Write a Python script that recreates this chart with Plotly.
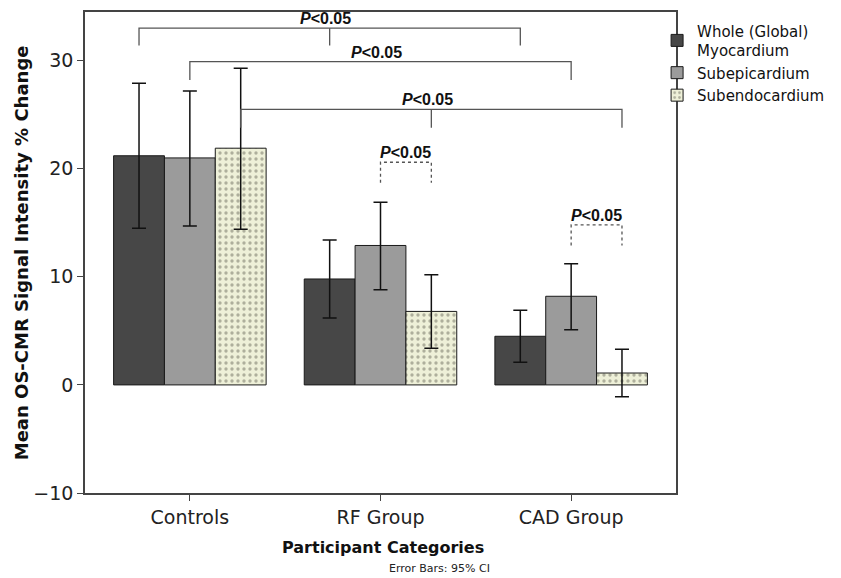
import plotly.graph_objects as go

categories = ["Controls", "RF Group", "CAD Group"]
series_names = ["Whole (Global)<br>Myocardium", "Subepicardium", "Subendocardium"]

whole_mean = [21.2, 9.8, 4.5]
whole_hi = [27.9, 13.4, 6.9]
whole_lo = [14.5, 6.2, 2.1]

subepi_mean = [21.0, 12.9, 8.2]
subepi_hi = [27.2, 16.9, 11.2]
subepi_lo = [14.7, 8.8, 5.1]

subendo_mean = [21.9, 6.8, 1.1]
subendo_hi = [29.3, 10.2, 3.3]
subendo_lo = [14.4, 3.4, -1.1]

# comparisons: (group_a, series_a, group_b, series_b, level, drop, mid_tick, dashed)
comparisons = [
    (0, 0, 2, 0, 33.0, 1.6, True, False),
    (0, 1, 2, 1, 29.9, 1.7, False, False),
    (0, 2, 2, 2, 25.5, 1.7, True, False),
    (1, 1, 1, 2, 20.6, 1.9, False, True),
    (2, 1, 2, 2, 14.8, 1.9, False, True),
]

means = [whole_mean, subepi_mean, subendo_mean]
his = [whole_hi, subepi_hi, subendo_hi]
los = [whole_lo, subepi_lo, subendo_lo]
fills = ["#474747", "#9b9b9b", "#eef0d8"]

FONT = "DejaVu Sans"
fig = go.Figure()
for i in range(3):
    m = means[i]
    plus = [h - v for h, v in zip(his[i], m)]
    minus = [v - l for v, l in zip(m, los[i])]
    marker = dict(color=fills[i], line=dict(color="#1a1a1a", width=1))
    if i == 2:
        marker["pattern"] = dict(shape=".", bgcolor="#eef0d8", fgcolor="#6e6e60",
                                 size=6, solidity=0.25, fillmode="overlay")
    fig.add_trace(go.Bar(
        x=categories, y=m, name=series_names[i], marker=marker,
        error_y=dict(type="data", symmetric=False, array=plus, arrayminus=minus,
                     color="#111111", thickness=1.5, width=7),
    ))

group_width = 0.8
bw = group_width / 3

def xpos(g, s):
    return g + (s - 1) * bw

shapes = []
annotations = []
for ga, sa, gb, sb, lvl, drop, mid, dashed in comparisons:
    xa, xb = xpos(ga, sa), xpos(gb, sb)
    line = dict(color="#555555", width=1.3, dash="dot" if dashed else "solid")
    path = f"M {xa} {lvl - drop} L {xa} {lvl} L {xb} {lvl} L {xb} {lvl - drop}"
    shapes.append(dict(type="path", path=path, xref="x", yref="y", line=line))
    xm = (xa + xb) / 2
    if mid:
        shapes.append(dict(type="line", x0=xm, x1=xm, y0=lvl, y1=lvl - drop,
                           xref="x", yref="y", line=line))
    annotations.append(dict(x=xm, y=lvl, xref="x", yref="y", yanchor="bottom",
                            text="<b><i>P</i>&lt;0.05</b>", showarrow=False,
                            xshift=-4 if ga != gb else 0, yshift=-1,
                            font=dict(family="Liberation Sans", size=16, color="#111111")))

# axis titles and footnote
annotations.append(dict(x=0.505, y=-0.114, xref="paper", yref="paper",
                        xanchor="center", yanchor="middle",
                        text="<b>Participant Categories</b>", showarrow=False,
                        font=dict(family=FONT, size=16, color="#111111")))
annotations.append(dict(x=0.6, y=-0.156, xref="paper", yref="paper",
                        xanchor="center", yanchor="middle",
                        text="Error Bars: 95% CI", showarrow=False,
                        font=dict(family=FONT, size=11, color="#222222")))
annotations.append(dict(x=-0.107, y=0.5, xref="paper", yref="paper",
                        xanchor="center", yanchor="middle", textangle=-90,
                        text="<b>Mean OS-CMR Signal Intensity % Change</b>", showarrow=False,
                        font=dict(family=FONT, size=18, color="#111111")))

fig.update_layout(
    width=841, height=578,
    margin=dict(l=77, r=173, t=4, b=93),
    plot_bgcolor="white", paper_bgcolor="white",
    barmode="group", bargap=0.2, bargroupgap=0,
    font=dict(family=FONT, color="#222222"),
    shapes=shapes, annotations=annotations,
    legend=dict(x=0.968, y=0.995, xref="paper", yref="paper",
                xanchor="left", yanchor="top",
                font=dict(family=FONT, size=15, color="#111111"),
                bgcolor="rgba(0,0,0,0)", tracegroupgap=0, itemwidth=30),
    showlegend=True,
)
fig.update_xaxes(showline=True, linecolor="#444444", linewidth=1.5, mirror=True,
                 ticks="outside", ticklen=6, tickcolor="#444444", automargin=False,
                 tickfont=dict(size=19, color="#222222"),
                 range=[-0.55, 2.55])
fig.update_yaxes(showline=True, linecolor="#444444", linewidth=1.5, mirror=True,
                 ticks="outside", ticklen=6, tickcolor="#444444", automargin=False,
                 tickfont=dict(size=19, color="#222222"), ticksuffix="\u2002",
                 range=[-10, 34.5], tickvals=[-10, 0, 10, 20, 30],
                 showgrid=False, zeroline=False)

fig.write_html("out.html")
